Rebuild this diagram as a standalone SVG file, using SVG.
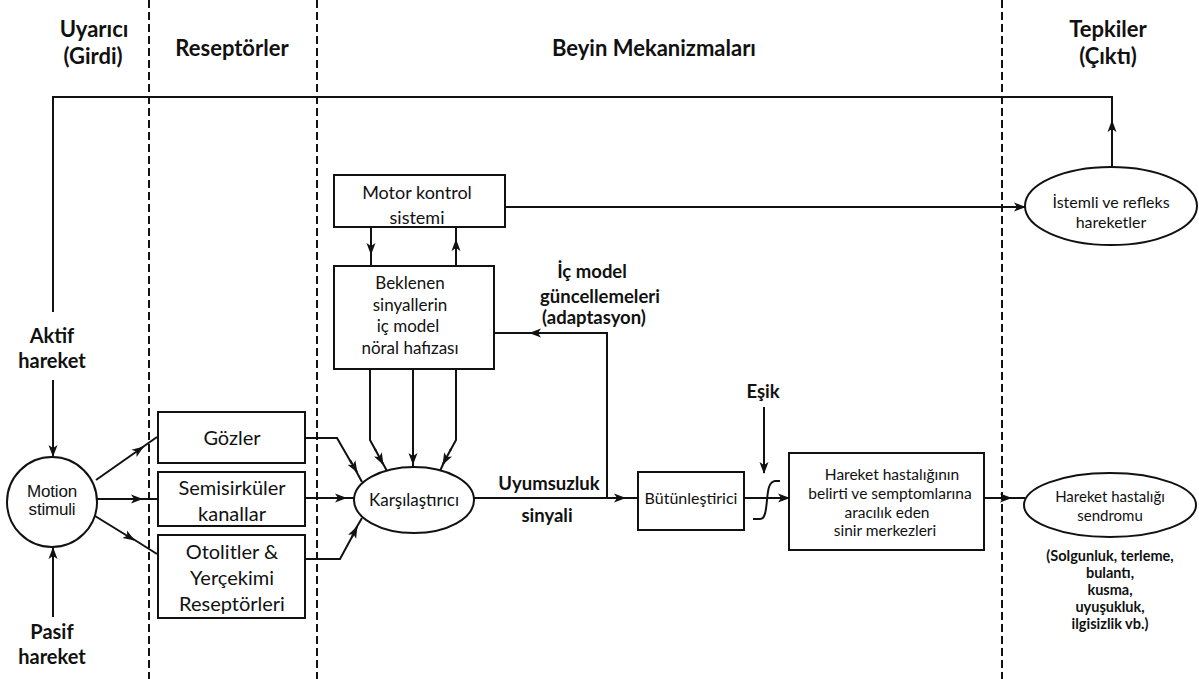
<svg xmlns="http://www.w3.org/2000/svg" width="1199" height="679" viewBox="0 0 1199 679">
<style>
text{font-family:Lato,"Open Sans","Liberation Sans",sans-serif;fill:#111;text-anchor:middle}
.h{font-weight:bold;font-size:22px}
.b{font-weight:bold;font-size:20px}
.r{font-size:20px}
.mk{font-size:18px}
.bk{font-size:17px}
.bl{font-weight:bold;font-size:18.5px}
.k{font-size:17px}
.bt{font-size:16px}
.m{font-size:15.5px}
.s{font-size:16px}
.sd{font-size:15px}
.bs{font-weight:bold;font-size:14.5px}
.ar1{font-family:"Liberation Sans",Arial,sans-serif;font-size:17px;letter-spacing:-0.2px}
.box{fill:#fff;stroke:#111;stroke-width:2}
.ln{fill:none;stroke:#111;stroke-width:2}
.ar{fill:none;stroke:#111;stroke-width:2;marker-end:url(#ah)}
.dash{stroke:#111;stroke-width:2;stroke-dasharray:8 4}
</style>
<defs>
<marker id="ah" viewBox="0 0 12 10" refX="11" refY="5" markerWidth="12" markerHeight="10" markerUnits="userSpaceOnUse" orient="auto">
<path d="M0,0.5 L12,5 L0,9.5 L3,5 z" fill="#111"/>
</marker>
</defs>
<rect width="1199" height="679" fill="#fff"/>
<g id="lanes">
<line class="dash" x1="149" y1="0" x2="149" y2="679"/>
<line class="dash" x1="317" y1="0" x2="317" y2="679"/>
<line class="dash" x1="1002" y1="0" x2="1002" y2="679"/>
<text class="h" x="94" y="37">Uyarıcı</text>
<text class="h" x="93" y="64">(Girdi)</text>
<text class="h" x="232" y="56">Reseptörler</text>
<text class="h" x="654" y="56">Beyin Mekanizmaları</text>
<text class="h" x="1108" y="37">Tepkiler</text>
<text class="h" x="1108" y="64">(Çıktı)</text>
</g>
<g id="connectors">
<path class="ar" d="M1112,167 L1112,121"/>
<path class="ln" d="M1112,125 L1112,97 L53,97 L53,312"/>
<path class="ar" d="M53,380 L53,456"/>
<path class="ar" d="M53,617 L53,548"/>
<path class="ar" d="M96,480 L143,447"/>
<path class="ln" d="M140,449 L157,437"/>
<path class="ar" d="M97,499 L142,499"/>
<path class="ln" d="M138,499 L157,499"/>
<path class="ar" d="M95,516 L134,540"/>
<path class="ln" d="M130,537 L157,554"/>
<path class="ln" d="M305,438 L337,438 L352,464"/>
<path class="ar" d="M350,460 L357,472"/>
<path class="ln" d="M355,469 L362,482"/>
<path class="ar" d="M305,498 L346,498"/>
<path class="ln" d="M342,498 L354,498"/>
<path class="ln" d="M305,559 L340,559 L353,535"/>
<path class="ar" d="M352,537 L357,527"/>
<path class="ln" d="M355,530 L362,518"/>
<path class="ln" d="M370,369 L370,440 L376,451"/>
<path class="ar" d="M375,449 L383,464"/>
<path class="ln" d="M381,460 L387,471"/>
<path class="ar" d="M413,369 L413,464"/>
<path class="ln" d="M413,460 L413,468"/>
<path class="ln" d="M456,369 L456,440 L450,451"/>
<path class="ar" d="M451,449 L443,464"/>
<path class="ln" d="M445,460 L440,471"/>
<path class="ar" d="M371,227 L371,254"/>
<path class="ln" d="M371,250 L371,266"/>
<path class="ar" d="M456,266 L456,240"/>
<path class="ln" d="M456,244 L456,227"/>
<path class="ar" d="M505,207 L1025,207"/>
<path class="ar" d="M474,498 L625,498"/>
<path class="ln" d="M620,498 L638,498"/>
<path class="ln" d="M607,498 L607,333 L540,333"/>
<path class="ar" d="M545,333 L530,333"/>
<path class="ln" d="M533,333 L494,333"/>
<path class="ar" d="M744,498 L789,498"/>
<path class="ar" d="M764,407 L764,473"/>
<path class="ar" d="M984,498 L1011,498"/>
<path class="ln" d="M1007,498 L1025,498"/>
<path class="ln" d="M753,519 L760,519 C765,519 766,511 767,500 C768,489 769,482 775,481 L780,481"/>
</g>
<g id="aktif">
<text class="b" x="52" y="343">Aktif</text>
<text class="b" x="52" y="368">hareket</text>
</g>
<g id="pasif">
<text class="b" x="52" y="639">Pasif</text>
<text class="b" x="52" y="664">hareket</text>
</g>
<g id="motion">
<ellipse class="box" cx="52" cy="502" rx="45" ry="45"/>
<text class="ar1" x="52" y="497">Motion</text>
<text class="ar1" x="52" y="515">stimuli</text>
</g>
<g id="gozler">
<rect class="box" x="158" y="412" width="147" height="51"/>
<text class="r" x="232" y="445">Gözler</text>
</g>
<g id="semisirkuler">
<rect class="box" x="158" y="472" width="147" height="54"/>
<text class="r" x="232" y="495">Semisirküler</text>
<text class="r" x="232" y="521">kanallar</text>
</g>
<g id="otolitler">
<rect class="box" x="158" y="535" width="147" height="83"/>
<text class="r" x="232" y="559">Otolitler &amp;</text>
<text class="r" x="232" y="585">Yerçekimi</text>
<text class="r" x="232" y="611">Reseptörleri</text>
</g>
<g id="motor">
<rect class="box" x="334" y="175" width="171" height="52"/>
<text class="mk" x="417" y="199">Motor kontrol</text>
<text class="mk" x="417" y="224">sistemi</text>
</g>
<g id="beklenen">
<rect class="box" x="334" y="266" width="160" height="103"/>
<text class="bk" x="410" y="289">Beklenen</text>
<text class="bk" x="410" y="311">sinyallerin</text>
<text class="bk" x="408" y="332">iç model</text>
<text class="bk" x="410" y="354">nöral hafızası</text>
</g>
<g id="adaptasyon">
<text class="bl" x="592" y="278">İç model</text>
<text class="bl" x="600" y="303">güncellemeleri</text>
<text class="bl" x="594" y="324">(adaptasyon)</text>
</g>
<g id="karsilastirici">
<ellipse class="box" cx="414" cy="500" rx="60" ry="33"/>
<text class="k" x="414" y="506">Karşılaştırıcı</text>
</g>
<g id="uyumsuzluk">
<text class="bl" x="549" y="490">Uyumsuzluk</text>
<text class="bl" x="547" y="522">sinyali</text>
</g>
<g id="butunlestirici">
<rect class="box" x="638" y="472" width="106" height="58"/>
<text class="bt" x="691" y="504">Bütünleştirici</text>
</g>
<g id="esik">
<text class="bl" x="763" y="398">Eşik</text>
</g>
<g id="merkezler">
<rect class="box" x="789" y="453" width="195" height="97"/>
<text class="m" x="892" y="480">Hareket hastalığının</text>
<text class="m" x="890" y="499">belirti ve semptomlarına</text>
<text class="m" x="887" y="518">aracılık eden</text>
<text class="m" x="885" y="536">sinir merkezleri</text>
</g>
<g id="istemli">
<ellipse class="box" cx="1111" cy="206" rx="86" ry="39"/>
<text class="s" x="1111" y="208">İstemli ve refleks</text>
<text class="s" x="1111" y="228">hareketler</text>
</g>
<g id="sendrom">
<ellipse class="box" cx="1110" cy="505" rx="86" ry="32"/>
<text class="sd" x="1110" y="502">Hareket hastalığı</text>
<text class="sd" x="1110" y="521">sendromu</text>
</g>
<g id="belirtiler">
<text class="bs" x="1110" y="561">(Solgunluk, terleme,</text>
<text class="bs" x="1110" y="578">bulantı,</text>
<text class="bs" x="1110" y="595">kusma,</text>
<text class="bs" x="1110" y="612">uyuşukluk,</text>
<text class="bs" x="1110" y="629">ilgisizlik vb.)</text>
</g>
</svg>
